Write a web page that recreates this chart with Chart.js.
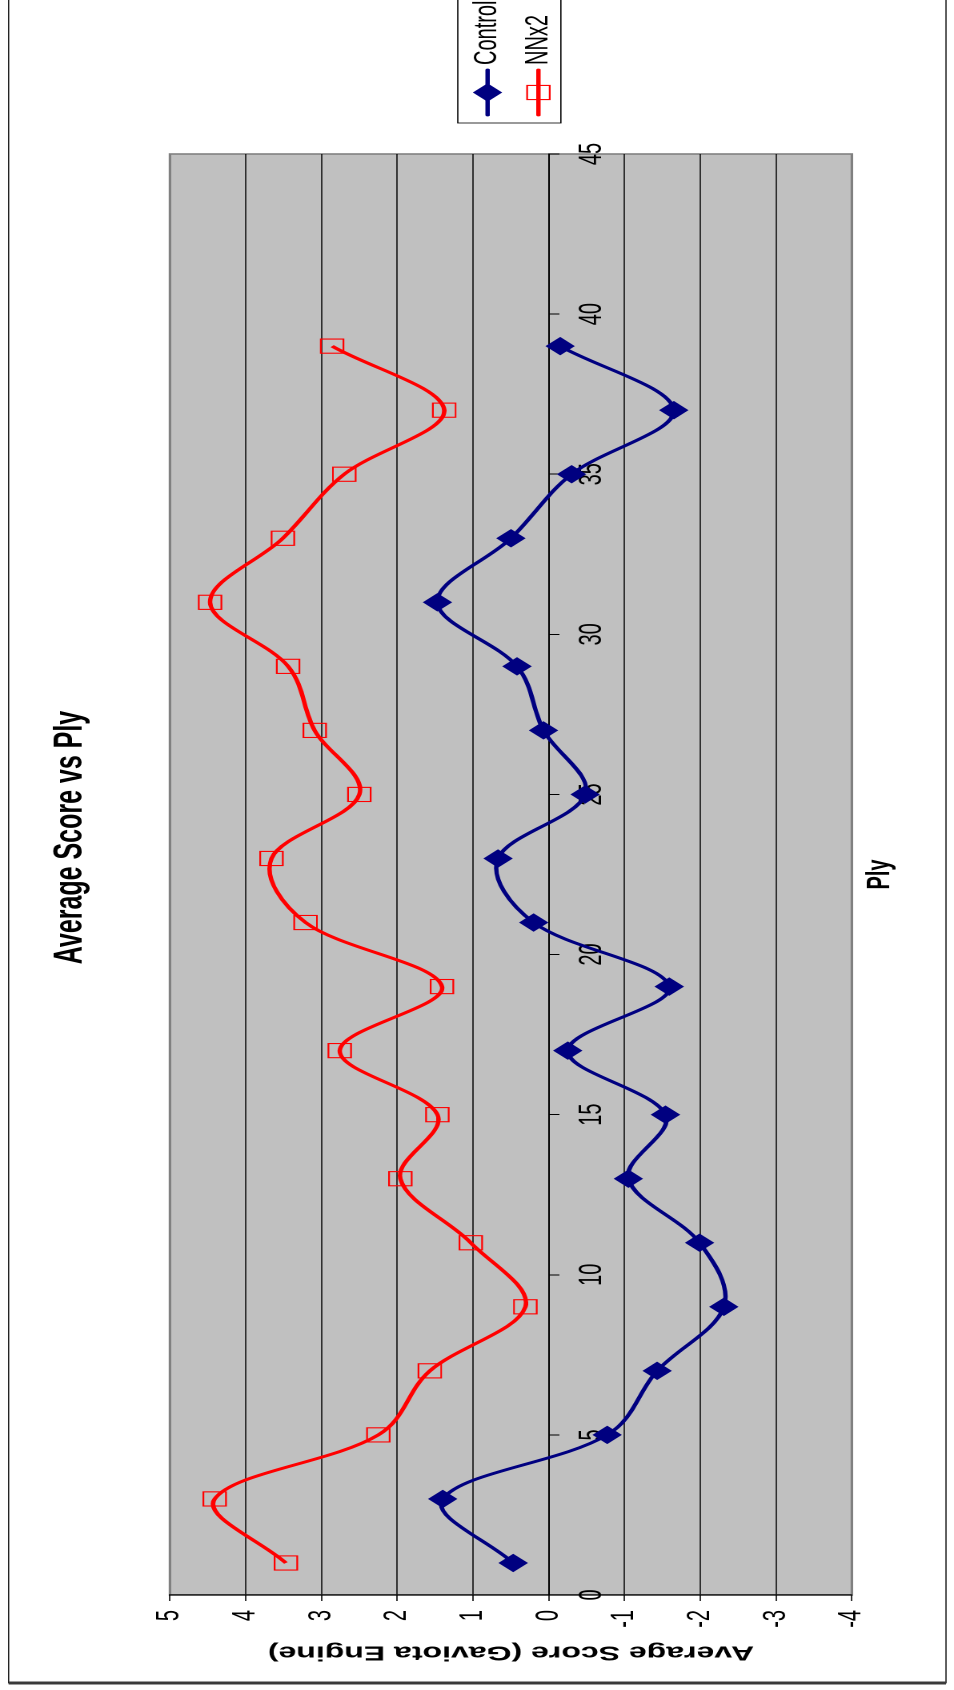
<!DOCTYPE html>
<html lang="en">
<head>
  <meta charset="UTF-8" />
  <title>Average Score vs Ply</title>
  <script src="https://cdn.jsdelivr.net/npm/chart.js"></script>
  <style>
    html, body {
      margin: 0;
      padding: 0;
      background: #fff;
    }

    body {
      width: 954px;
      height: 1690px;
      overflow: hidden;
      position: relative;
    }

    /* the chart is laid out landscape, then turned and stretched onto the portrait page */
    #frame {
      position: absolute;
      left: 0;
      top: 0;
      width: 1705px;
      height: 596px;
      transform-origin: 0 0;
      transform: translate(0, 1690px) rotate(-90deg) scale(1, 1.6007);
    }
  </style>
</head>
<body>

  <div id="frame"><canvas id="chart" width="1705" height="596"></canvas></div>

  <script>
    const plies = [1, 3, 5, 7, 9, 11, 13, 15, 17, 19, 21, 23, 25, 27, 29, 31, 33, 35, 37, 39];
    const control = [0.47, 1.40, -0.77, -1.43, -2.31, -1.99, -1.05, -1.54, -0.25, -1.59, 0.20, 0.67, -0.48, 0.07, 0.42, 1.47, 0.50, -0.30, -1.65, -0.15];
    const nnx2 = [3.47, 4.41, 2.25, 1.57, 0.31, 1.03, 1.96, 1.47, 2.76, 1.41, 3.21, 3.66, 2.50, 3.09, 3.44, 4.47, 3.51, 2.70, 1.38, 2.86];

    const plyRange = [0, 45];      // ticks every 5
    const scoreRange = [-4, 5];    // ticks every 1
    const seriesNames = ['Control', 'NNx2'];

    const chartTitle = 'Average Score vs Ply';
    const xTitle = 'Ply';
    const yTitle = 'Average Score (Gaviota Engine)';

    const sans = '"Liberation Sans", Arial, sans-serif';
    Chart.defaults.font.family = sans;
    Chart.defaults.color = '#000';

    // white page, grey plot area, outer frame
    const backdrop = {
      id: 'backdrop',
      beforeDraw(chart) {
        const { ctx, chartArea: a, width, height } = chart;
        ctx.save();
        ctx.fillStyle = '#fff';
        ctx.fillRect(0, 0, width, height);
        ctx.fillStyle = '#c0c0c0';
        ctx.fillRect(a.left, a.top, a.right - a.left, a.bottom - a.top);
        ctx.strokeStyle = '#808080';
        ctx.lineWidth = 1.6;
        ctx.strokeRect(a.left, a.top, a.right - a.left, a.bottom - a.top);
        ctx.strokeStyle = '#000';
        ctx.lineWidth = 0.7;
        ctx.strokeRect(7, 5.4, width + 50, 585.6);
        ctx.strokeStyle = '#3a3a3a';
        ctx.lineWidth = 3;
        ctx.beginPath();
        ctx.moveTo(7, 5.4);
        ctx.lineTo(7, 591);
        ctx.stroke();
        ctx.restore();
      }
    };

    function marker(ctx, ds, x, y) {
      const r = ds.pointRadius;
      ctx.beginPath();
      if (ds.pointStyle === 'rectRot') {
        ctx.moveTo(x - r, y);
        ctx.lineTo(x, y - r);
        ctx.lineTo(x + r, y);
        ctx.lineTo(x, y + r);
        ctx.closePath();
      } else {
        const h = r * Math.SQRT1_2;
        ctx.rect(x - h, y - h, 2 * h, 2 * h);
      }
      ctx.fillStyle = ds.pointBackgroundColor;
      ctx.fill();
      ctx.lineWidth = ds.pointBorderWidth;
      ctx.strokeStyle = ds.pointBorderColor;
      ctx.stroke();
    }

    // Excel style legend: line with marker, boxed
    const legendBox = {
      id: 'legendBox',
      afterDraw(chart) {
        const { ctx, chartArea } = chart;
        const x0 = chartArea.right + 31;
        const y0 = 286;
        ctx.save();
        ctx.fillStyle = '#fff';
        ctx.fillRect(x0, y0, 200, 64.4);
        ctx.strokeStyle = '#000';
        ctx.lineWidth = 0.8;
        ctx.strokeRect(x0, y0, 200, 64.4);
        chart.data.datasets.forEach((ds, i) => {
          const cy = y0 + 18.6 + i * 31.8;
          ctx.strokeStyle = ds.borderColor;
          ctx.lineWidth = ds.borderWidth;
          ctx.lineCap = 'round';
          ctx.beginPath();
          ctx.moveTo(x0 + 8, cy);
          ctx.lineTo(x0 + 53, cy);
          ctx.stroke();
          marker(ctx, ds, x0 + 30.5, cy);
          ctx.fillStyle = '#000';
          ctx.font = '20px ' + sans;
          ctx.textBaseline = 'middle';
          ctx.fillText(ds.label, x0 + 58, cy);
        });
        ctx.restore();
      }
    };

    const toPoints = ys => plies.map((p, i) => ({ x: p, y: ys[i] }));

    new Chart(document.getElementById('chart'), {
      type: 'line',
      data: {
        datasets: [
          {
            label: seriesNames[0],
            data: toPoints(control),
            borderColor: '#000080',
            borderWidth: 2.8,
            tension: 0.35,
            pointStyle: 'rectRot',
            pointRadius: 8.5,
            pointBackgroundColor: '#000080',
            pointBorderColor: '#000080',
            pointBorderWidth: 1
          },
          {
            label: seriesNames[1],
            data: toPoints(nnx2),
            borderColor: '#ff0000',
            borderWidth: 2.8,
            tension: 0.35,
            pointStyle: 'rect',
            pointRadius: 10,
            pointBackgroundColor: 'rgba(0,0,0,0)',
            pointBorderColor: '#ff0000',
            pointBorderWidth: 1.1
          }
        ]
      },
      options: {
        responsive: false,
        animation: false,
        devicePixelRatio: 2,
        events: [],
        layout: { padding: 0 },
        plugins: {
          legend: { display: false },
          tooltip: { enabled: false },
          title: {
            display: true,
            text: chartTitle,
            color: '#000',
            font: { size: 25, weight: 'bold' },
            padding: { top: 29, bottom: 47.2 }
          }
        },
        scales: {
          x: {
            type: 'linear',
            position: { y: 0 },
            min: plyRange[0],
            max: plyRange[1],
            ticks: { stepSize: 5, padding: 9, font: { size: 20 }, maxRotation: 0 },
            grid: { drawOnChartArea: false, drawTicks: true, tickLength: 6, tickColor: '#000' },
            border: { display: true, color: '#000', width: 1 }
          },
          x2: {
            type: 'linear',
            axis: 'x',
            position: 'bottom',
            min: plyRange[0],
            max: plyRange[1],
            ticks: { display: false },
            grid: { display: false },
            border: { display: false },
            title: {
              display: true,
              text: xTitle,
              font: { size: 20, weight: 'bold' },
              padding: { top: 0, bottom: 34 }
            },
            afterFit: s => { s.height = 63.8; }
          },
          y: {
            type: 'linear',
            position: 'left',
            min: scoreRange[0],
            max: scoreRange[1],
            ticks: { stepSize: 1, padding: 9, font: { size: 20 } },
            grid: {
              color: c => (c.tick && (c.tick.value === scoreRange[0] || c.tick.value === scoreRange[1])) ? 'rgba(0,0,0,0)' : '#000',
              lineWidth: 0.8,
              tickLength: 6,
              tickColor: '#000'
            },
            border: { display: true, color: '#000', width: 1.2 },
            title: {
              display: true,
              text: yTitle,
              font: { family: '"Liberation Sans Narrow", "Arial Narrow", ' + sans, size: 20, weight: 'bold' },
              padding: { top: 26, bottom: 0 }
            },
            afterFit: s => { s.width = 95; }
          },
          yLegendSpace: {
            type: 'linear',
            axis: 'y',
            position: 'right',
            ticks: { display: false },
            grid: { display: false },
            border: { display: false },
            afterFit: s => { s.width = 169; }
          }
        }
      },
      plugins: [backdrop, legendBox]
    });
  </script>
</body>
</html>
